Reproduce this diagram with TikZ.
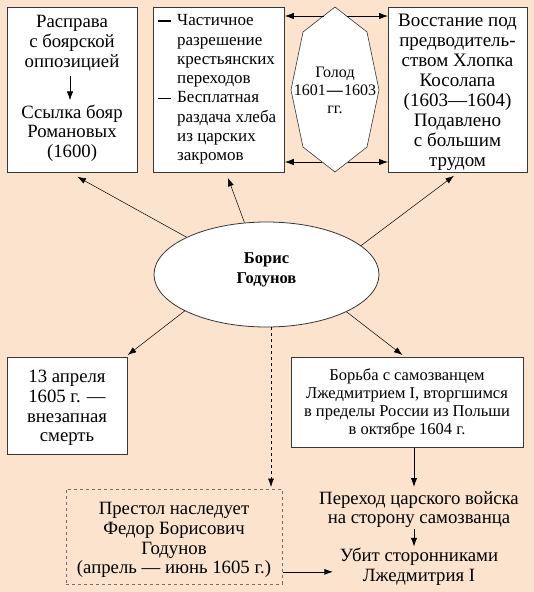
\documentclass[tikz,border=0pt]{standalone}
\usepackage{fontspec}
\setmainfont{Liberation Serif}
\usetikzlibrary{arrows.meta,shapes.geometric,calc}
\definecolor{bgpeach}{RGB}{251,227,206}
\definecolor{boxline}{RGB}{55,55,55}
\definecolor{dashline}{RGB}{120,110,105}
\newcommand\bdash{\makebox[19pt][l]{\rule[3.6pt]{13pt}{1.8pt}}}
\newcommand\bind{\hspace*{19pt}}
\begin{document}
\begin{tikzpicture}[x=1pt,y=-1pt,
  box/.style={draw=boxline,line width=0.8pt,fill=white,inner sep=0pt,anchor=north west},
  txt/.style={inner sep=0pt,align=center,font=\fontsize{18.75}{19.7}\selectfont},
  conn/.style={line width=0.5pt,-{Latex[length=8.5pt,width=6pt]}},
  harrow/.style={line width=0.8pt,-{Latex[length=9pt,width=6.5pt]}},
  varrow/.style={line width=1pt,-{Latex[length=9pt,width=6.5pt]}}
]
\fill[bgpeach] (0,0) rectangle (534,592);
\useasboundingbox (0,0) rectangle (534,592);

% top boxes
\node[box,minimum width=130pt,minimum height=165pt] (A) at (7,7) {};
\node[box,minimum width=131pt,minimum height=165pt] (B) at (153,7) {};
\node[box,minimum width=139pt,minimum height=165pt] (C) at (388,7) {};

\node[txt] (a1) at (72,43) {Расправа\\с боярской\\оппозицией};
\node[txt] (a2) at (72,133) {Ссылка бояр\\Романовых\\(1600)};
\draw[varrow,shorten <=5pt,shorten >=4pt] ([xshift=-2pt]a1.south) -- ([xshift=-2pt]a2.north);

\node[txt,align=left,anchor=west,font=\fontsize{17}{19.3}\selectfont] (btxt) at (158,89.5)
  {\bdash Частичное\\\bind разрешение\\\bind крестьянских\\\bind переходов\\
   \bdash Бесплатная\\\bind раздача хлеба\\\bind из царских\\\bind закромов};

\node[txt,font=\fontsize{19}{20}\selectfont] (ctxt) at (457.5,92.5)
  {Восстание под\\предводитель-\\ством Хлопка\\Косолапа\\(1603—1604)\\Подавлено\\с большим\\трудом};

% octagon "Голод"
\draw[draw=boxline,line width=0.6pt,fill=white]
  (335,7) -- (367,32) -- (379,90) -- (367,147) -- (335,172) -- (303,147) -- (291,90) -- (303,32) -- cycle;
\node[txt,font=\fontsize{16}{18}\selectfont] (hx) at (335,90) {Голод\\1601\kern1pt\textbf{—}\kern1pt1603\\гг.};
\coordinate (h1) at (323.5,16);
\coordinate (h2) at (346.5,16);
\coordinate (h3) at (322,162);
\coordinate (h4) at (348,162);
\draw[harrow] (h1) -- (h1 -| B.east);
\draw[harrow] (h2) -- (h2 -| C.west);
\draw[harrow] (h3) -- (h3 -| B.east);
\draw[harrow] (h4) -- (h4 -| C.west);

% central ellipse
\node[ellipse,draw=boxline,fill=white,line width=0.8pt,minimum width=225pt,minimum height=105pt,inner sep=0pt] (ell) at (266.5,274.5) {};
\node[txt,font=\bfseries\fontsize{16.5}{20}\selectfont] (elltxt) at (266.5,270) {Борис\\Годунов};

\draw[conn] (ell.155) -- ([xshift=5pt,yshift=-4pt]A.south);
\draw[conn] (ell.113) -- ([xshift=9pt,yshift=-5pt]B.south);
\draw[conn] (ell.17) -- ([xshift=-4pt,yshift=-3pt]C.south);

% lower boxes
\node[box,minimum width=120pt,minimum height=97pt] (D) at (7,357) {};
\node[txt] (dtxt) at (67,408) {13 апреля\\1605 г. —\\внезапная\\смерть};
\node[box,minimum width=232pt,minimum height=90pt] (E) at (291,357) {};
\node[txt,font=\fontsize{16.5}{18}\selectfont] (etxt) at (407,403.5)
  {Борьба с самозванцем\\Лжедмитрием I, вторгшимся\\в пределы России из Польши\\в октябре 1604 г.};
\node[box,draw=dashline,dash pattern=on 3pt off 3pt,line width=0.7pt,fill=none,minimum width=216pt,minimum height=95pt] (F) at (66,489) {};
\node[txt] (ftxt) at (174,540)
  {Престол наследует\\Федор Борисович\\Годунов\\(апрель — июнь 1605 г.)};

\draw[conn] (ell.204) -- ([yshift=2pt]D.north east);
\draw[conn] (ell.335) -- ([xshift=-5pt,yshift=2pt]E.north);
\draw[conn,dash pattern=on 3pt off 3pt] ([xshift=4.5pt]ell.south) -- ([xshift=4.5pt,yshift=2pt]ell.south |- F.north);

\node[txt] (p1) at (419,509.5) {Переход царского войска\\на сторону самозванца};
\node[txt] (p2) at (419,566.5) {Убит сторонниками\\Лжедмитрия I};

\draw[varrow,shorten >=4pt] ([xshift=-5pt]p1.north |- E.south) -- ([xshift=-5pt]p1.north);
\draw[varrow,shorten <=1pt,shorten >=1pt] ([xshift=-5pt]p1.south) -- ([xshift=-5pt]p2.north);
\draw[conn,line width=0.6pt,shorten >=7pt] ([yshift=-35pt]F.east) -- ([yshift=-35pt]F.east -| p2.west);
\end{tikzpicture}
\end{document}
